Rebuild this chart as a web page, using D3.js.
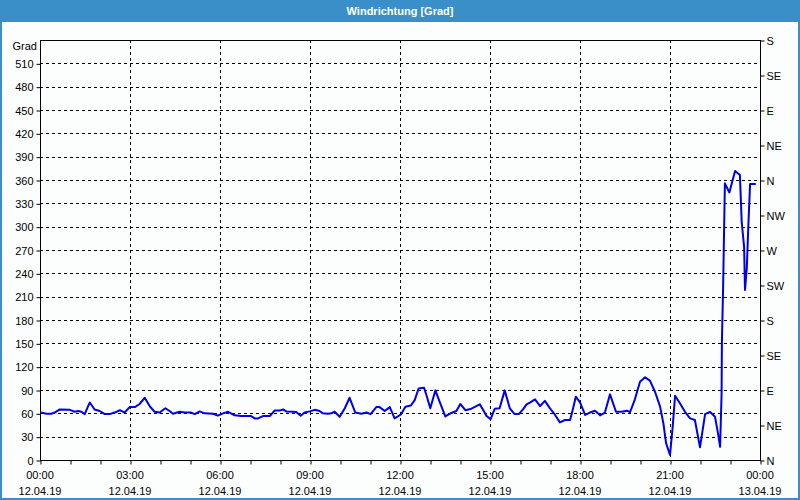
<!DOCTYPE html>
<html>
<head>
<meta charset="utf-8">
<script src="https://cdn.jsdelivr.net/npm/d3@7/dist/d3.min.js"></script>
<style>
  html, body { margin: 0; padding: 0; background: #fff; }
  svg { display: block; }
  text { font-family: "Liberation Sans", Arial, sans-serif; font-size: 11px; fill: #000; }
</style>
</head>
<body>
<svg id="chart" width="800" height="500"></svg>
<script>
// ---- data (hours since 12.04.19 00:00, wind direction in degrees) ----
const title = "Windrichtung [Grad]";
const yUnit = "Grad";
const hours = [0.04,0.21,0.38,0.49,0.66,0.99,1.16,1.27,1.38,1.49,1.66,1.82,1.99,2.16,2.32,2.49,2.66,2.82,2.99,3.16,3.32,3.49,3.66,3.82,3.99,
  4.18,4.32,4.43,4.66,4.82,5.04,5.16,5.32,5.49,5.77,5.93,6.1,6.27,6.49,6.71,7.04,7.16,7.27,7.43,7.66,7.82,7.99,
  8.1,8.21,8.43,8.54,8.69,8.82,8.99,9.16,9.32,9.43,9.6,9.71,9.82,9.99,10.16,10.32,10.51,10.71,10.88,11.02,11.21,11.32,11.49,11.66,11.82,11.93,
  12.04,12.18,12.36,12.49,12.62,12.8,12.88,13.01,13.18,13.32,13.51,13.71,13.88,14.01,14.18,14.38,14.66,14.77,14.88,15.02,15.16,15.32,15.49,15.66,15.82,15.96,
  16.1,16.22,16.33,16.5,16.67,16.83,17.0,17.17,17.33,17.5,17.67,17.76,17.86,18.0,18.17,18.33,18.5,18.67,18.83,19.0,19.2,19.39,19.56,19.67,19.83,
  20.0,20.17,20.33,20.5,20.67,20.78,20.87,21.0,21.09,21.17,21.33,21.5,21.67,21.83,22.0,22.17,22.33,22.5,22.61,22.67,22.72,22.73,22.77,22.8,22.83,
  22.98,23.06,23.17,23.33,23.39,23.47,23.5,23.56,23.61,23.67,23.86];
const degrees = [61,59.5,59.5,61,65,64.5,62,63,62,59,74,65,63,59,59,61,64,61,68,68,72,80,69,62,61,
  66.5,63,59.5,62,61,61,59,62.5,60,59.5,57,60,62,57.5,56.5,56.5,53.5,53.5,56.5,56.5,63.5,63.5,
  65,62.5,62,61.7,57,61,62.5,64.5,63,60,59.5,60,62,55.5,66.5,80,61,59.5,61,59,68,68,63,68,53.5,56,
  59,68.5,70,77,92,93,83.5,66.5,89.5,75,56,60.5,63,72,64,66,71.5,64.5,57,52.5,66,66.5,89.5,66.5,59,59,
  65,71.6,73.7,78,69.4,76,66.4,57.9,48.4,51.4,51.4,65,81.4,74,57.9,61,63.4,57.4,61,84.4,62,62,63.4,61.7,78,
  100.7,106.3,102,87.8,68.6,47,21.5,6.4,42.9,82.7,72.9,62,53.5,51.4,16.3,59,62,55.7,32,17,85.7,152,220.7,289,355.7,
  344,355.7,371.6,366.4,306,274,218.6,246.5,300,355,355];

const yTicks = [0,30,60,90,120,150,180,210,240,270,300,330,360,390,420,450,480,510];
const compassTicks = [0,45,90,135,180,225,270,315,360,405,450,495,540];
const compassLabels = ["N","NE","E","SE","S","SW","W","NW","N","NE","E","SE","S"];
const xTickHours = [0,3,6,9,12,15,18,21,24];
const xTickTimes = ["00:00","03:00","06:00","09:00","12:00","15:00","18:00","21:00","00:00"];
const xTickDates = ["12.04.19","12.04.19","12.04.19","12.04.19","12.04.19","12.04.19","12.04.19","12.04.19","13.04.19"];
const minorHours = d3.range(0, 25, 1);

// ---- layout ----
const W = 800, H = 500;
const m = { left: 40, right: 40, top: 40, bottom: 40 };
const svg = d3.select("#chart");

// frame
svg.append("rect").attr("x", 0).attr("y", 0).attr("width", W).attr("height", H).attr("fill", "#3b8fc8");
svg.append("rect").attr("x", 2).attr("y", 22).attr("width", W - 4).attr("height", H - 24).attr("fill", "#fcfefd");
svg.append("text").attr("x", W / 2).attr("y", 15).attr("text-anchor", "middle")
  .style("font-weight", "bold").style("fill", "#fff").text(title);

const x = d3.scaleLinear().domain([0, 24]).range([m.left, W - m.right]);
const y = d3.scaleLinear().domain([0, 540]).range([H - m.bottom, m.top]);

// grid
const g = svg.append("g");
g.selectAll(".hg").data(yTicks.filter(v => v > 0)).join("line")
  .attr("x1", m.left).attr("x2", W - m.right)
  .attr("y1", d => Math.round(y(d)) + 0.5).attr("y2", d => Math.round(y(d)) + 0.5)
  .attr("stroke", "#000").attr("stroke-dasharray", "3,3");
g.selectAll(".vg").data(xTickHours.filter(v => v > 0 && v < 24)).join("line")
  .attr("y1", m.top).attr("y2", H - m.bottom)
  .attr("x1", d => Math.round(x(d)) + 0.5).attr("x2", d => Math.round(x(d)) + 0.5)
  .attr("stroke", "#000").attr("stroke-dasharray", "3,3");

// left axis
const leftAxis = d3.axisLeft(y).tickValues(yTicks).tickSize(4).tickPadding(3).tickFormat(d3.format("d"));
const la = svg.append("g").attr("transform", `translate(${m.left + 0.5},0.5)`).call(leftAxis);
la.select(".domain").remove();
la.selectAll("text").style("font-family", "Liberation Sans, Arial, sans-serif").style("font-size", "11px");

// right axis
const rightAxis = d3.axisRight(y).tickValues(compassTicks).tickSize(4).tickPadding(2)
  .tickFormat((d, i) => compassLabels[i]);
const ra = svg.append("g").attr("transform", `translate(${W - m.right + 0.5},0.5)`).call(rightAxis);
ra.select(".domain").remove();
ra.selectAll("text").style("font-family", "Liberation Sans, Arial, sans-serif").style("font-size", "11px");

// bottom axis: minor hour ticks
const bAxis = d3.axisBottom(x).tickValues(minorHours).tickSize(4).tickFormat("");
const ba = svg.append("g").attr("transform", `translate(0.5,${H - m.bottom + 0.5})`).call(bAxis);
ba.select(".domain").remove();
const bl = svg.append("g");
bl.selectAll(".t1").data(xTickHours).join("text")
  .attr("x", d => x(d)).attr("y", 479).attr("text-anchor", "middle").text((d, i) => xTickTimes[i]);
bl.selectAll(".t2").data(xTickHours).join("text")
  .attr("x", d => x(d)).attr("y", 495).attr("text-anchor", "middle").text((d, i) => xTickDates[i]);

// plot border
svg.append("rect").attr("x", m.left + 0.5).attr("y", m.top + 0.5)
  .attr("width", W - m.left - m.right).attr("height", H - m.top - m.bottom)
  .attr("fill", "none").attr("stroke", "#000");

// unit label
svg.append("text").attr("x", 37).attr("y", 50).attr("text-anchor", "end").text(yUnit);

// series
const pts = hours.map((h, i) => [h, degrees[i]]);
svg.append("path").datum(pts)
  .attr("fill", "none").attr("stroke", "#0000e6").attr("stroke-width", 2).attr("stroke-linejoin", "round")
  .attr("d", d3.line().x(d => x(d[0])).y(d => y(d[1])));
</script>
</body>
</html>
